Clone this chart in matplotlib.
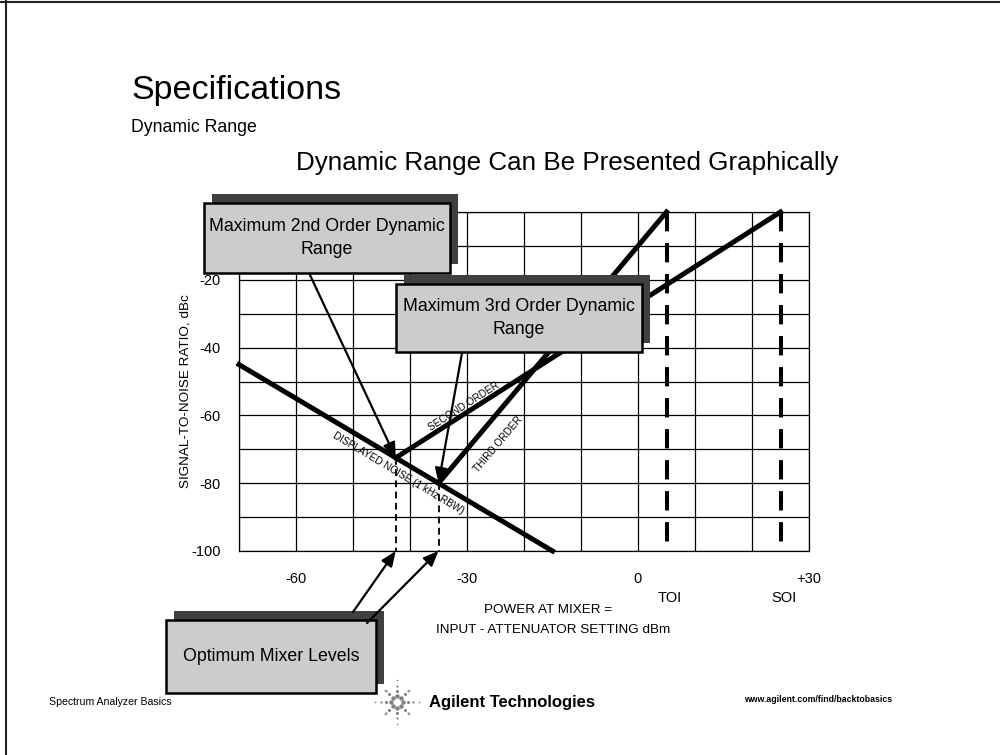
import numpy as np
import matplotlib.pyplot as plt
from matplotlib.patches import Rectangle, ConnectionPatch
from matplotlib.lines import Line2D

plt.rcParams['font.family'] = ['Liberation Sans', 'DejaVu Sans']

W, H = 1000, 755

# dynamic range lines, x = mixer level (dBm), y = S/N ratio (dBc)
noise_x = [-70, -15]
noise_y = [-45, -100]
second_x = [-42.5, 25]
second_y = [-72.5, 0]
third_x = [-35, 5]
third_y = [-80, 0]
toi = 5
soi = 25
opt_levels = [-42.5, -35]
opt_snr = [-72.5, -80]

x_ticks = [-60, -30, 0, 30]
x_ticklabels = ['-60', '-30', '0', '+30']
y_ticks = [-20, -40, -60, -80, -100]
y_ticklabels = ['-20', '-40', '-60', '-80', '-100']


def fx(px):
    return px / W


def fy(py):
    return 1 - py / H


fig = plt.figure(figsize=(10, 7.55), dpi=100)
ax = fig.add_axes([fx(239), fy(551), (809 - 239) / W, (551 - 212) / H])
ax.set_xlim(-70, 30)
ax.set_ylim(-100, 0)

# grid every 10 dB, labels only on some of them
ax.set_xticks(np.arange(-70, 31, 10), minor=True)
ax.set_yticks(np.arange(-100, 1, 10), minor=True)
ax.set_xticks(x_ticks)
ax.set_xticklabels(x_ticklabels, fontsize=10.5)
ax.set_yticks(y_ticks)
ax.set_yticklabels(y_ticklabels, fontsize=10.5)
ax.grid(which='both', color='black', lw=0.9)
ax.tick_params(which='both', length=0)
ax.tick_params(axis='x', pad=15)
ax.tick_params(axis='y', pad=13)
for s in ax.spines.values():
    s.set_linewidth(0.9)

ax.plot(noise_x, noise_y, color='black', lw=3.6, clip_on=False)
ax.plot(second_x, second_y, color='black', lw=3.6, clip_on=False)
ax.plot(third_x, third_y, color='black', lw=3.6, clip_on=False)

for xi in (toi, soi):
    ax.plot([xi, xi], [0, -98], color='black', lw=2.9, ls=(0, (4.8, 2.9)))

for xl, yl in zip(opt_levels, opt_snr):
    ax.plot([xl, xl], [yl, -100], color='black', lw=1.3, ls=(0, (3.8, 2.4)))

ax.text(-42.1, -77, 'DISPLAYED NOISE (1 kHz RBW)', fontsize=7.2, rotation=-45,
        transform_rotates_text=True, rotation_mode='anchor', ha='center', va='center')
ax.text(-30.5, -57.5, 'SECOND ORDER', fontsize=7.2, rotation=47,
        transform_rotates_text=True, rotation_mode='anchor', ha='center', va='center')
ax.text(-24.6, -68.7, 'THIRD ORDER', fontsize=7.2, rotation=63.4,
        transform_rotates_text=True, rotation_mode='anchor', ha='center', va='center')

ax.text(toi + 0.6, -0.139, 'TOI', transform=ax.get_xaxis_transform(),
        fontsize=10.5, ha='center', va='center')
ax.text(soi + 0.6, -0.139, 'SOI', transform=ax.get_xaxis_transform(),
        fontsize=10.5, ha='center', va='center')

fig.text(fx(186), fy(391), 'SIGNAL-TO-NOISE RATIO, dBc', rotation=90,
         fontsize=9.7, ha='center', va='center')
fig.text(fx(548), fy(610), 'POWER AT MIXER =', fontsize=9.7, ha='center', va='center')
fig.text(fx(553), fy(630), 'INPUT - ATTENUATOR SETTING dBm', fontsize=9.7,
         ha='center', va='center')

# slide headings
fig.text(fx(131), fy(90), 'Specifications', fontsize=24.5, ha='left', va='center')
fig.text(fx(131), fy(128), 'Dynamic Range', fontsize=12.7, ha='left', va='center')
fig.text(fx(567), fy(163), 'Dynamic Range Can Be Presented Graphically',
         fontsize=18.7, ha='center', va='center')

# callout boxes with a drop shadow up and to the right
boxes = [
    (204, 203, 450, 273, 'Maximum 2nd Order Dynamic\nRange'),
    (396, 284, 642, 352, 'Maximum 3rd Order Dynamic\nRange'),
    (166, 620, 376, 693, 'Optimum Mixer Levels'),
]
for x0, y0, x1, y1, label in boxes:
    fig.add_artist(Rectangle((fx(x0 + 8), fy(y1 - 9)), (x1 - x0) / W, (y1 - y0) / H,
                             transform=fig.transFigure, facecolor='#404040',
                             edgecolor='none', zorder=5))
    fig.add_artist(Rectangle((fx(x0), fy(y1)), (x1 - x0) / W, (y1 - y0) / H,
                             transform=fig.transFigure, facecolor='#cccccc',
                             edgecolor='black', lw=1.8, zorder=6))
    fig.text(fx((x0 + x1) / 2), fy((y0 + y1) / 2), label, fontsize=12.8,
             ha='center', va='center', linespacing=1.45, zorder=7)

# arrows from the callouts to the points they name
arrow_starts = [(310, 275), (462, 353), (353, 612), (367, 623)]
arrow_ends = [(opt_levels[0], opt_snr[0]), (opt_levels[1], opt_snr[1]),
              (opt_levels[0], -100), (opt_levels[1], -100)]
for (sx, sy), end in zip(arrow_starts, arrow_ends):
    fig.add_artist(ConnectionPatch(xyA=(fx(sx), fy(sy)), coordsA=fig.transFigure,
                                   xyB=end, coordsB=ax.transData,
                                   arrowstyle='-|>,head_length=0.6,head_width=0.25',
                                   mutation_scale=15, lw=1.6, color='black', zorder=8))

# footer
fig.text(fx(49), fy(702), 'Spectrum Analyzer Basics', fontsize=7.6, ha='left', va='center')
fig.text(fx(429), fy(702), 'Agilent Technologies', fontsize=12, fontweight='bold',
         ha='left', va='center')
fig.text(fx(744), fy(699), 'www.agilent.com/find/backtobasics', fontsize=6.3,
         fontweight='bold', ha='left', va='center')

# spark logo
cx, cy = 397, 702
for k in range(8):
    a = k * np.pi / 4
    reach = 22 if k % 2 == 0 else 17
    for r, ms in zip([6, 11, 16, reach], [3.2, 2.2, 1.6, 1.2]):
        fig.add_artist(Line2D([fx(cx + r * np.cos(a))], [fy(cy - r * np.sin(a))],
                              marker='o', ms=ms, color='#808080', mec='none',
                              transform=fig.transFigure))

# slide frame
fig.add_artist(Line2D([fx(6), fx(6)], [0, 1], color='#222222', lw=1.5,
                      transform=fig.transFigure))
fig.add_artist(Line2D([0, 1], [fy(2), fy(2)], color='#222222', lw=1.5,
                      transform=fig.transFigure))

fig.savefig('out.png', dpi=100)
